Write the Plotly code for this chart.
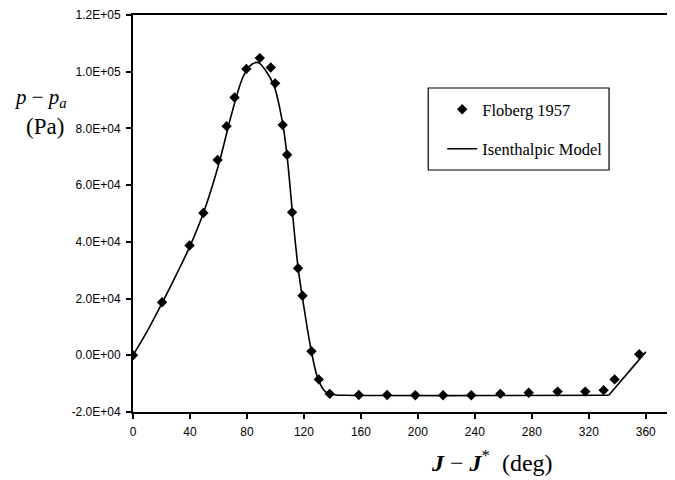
import plotly.graph_objects as go

# ---- data ----
floberg_deg = [0, 20.4, 39.7, 49.4, 59.4, 65.7, 71.3, 79.6, 89.0, 96.7, 99.8, 105.1, 108.2,
               111.7, 115.9, 119.0, 125.3, 130.4, 138.1, 158.5, 178.4, 198.2, 217.7,
               237.5, 257.9, 277.8, 298.1, 317.5, 330.4, 338.1, 355.4]
floberg_pa = [0, 18700, 38700, 50200, 68900, 80800, 90900, 101000, 104800, 101500, 95900,
              81200, 70700, 50400, 30700, 21000, 1400, -8500, -13600, -14000, -14000,
              -14100, -14100, -14100, -13600, -13200, -12800, -12800, -12300, -8500, 350]

model_deg = [0, 10, 20, 30, 40, 50, 60, 70, 78, 84, 88, 93, 99, 105, 108, 112, 116, 120,
             125, 130, 135, 140, 150, 170, 250, 334]
model_pa = [0, 8500, 18000, 28000, 38500, 51000, 67000, 86500, 99000, 102800, 103200,
            100500, 95000, 82000, 71000, 50000, 30500, 17000, 2000, -8500, -12800, -13800,
            -14100, -14200, -14200, -14100]
model_tail_deg = [334, 360]
model_tail_pa = [-14100, 1200]

x_ticks = [0, 40, 80, 120, 160, 200, 240, 280, 320, 360]
y_ticks = [-20000, 0, 20000, 40000, 60000, 80000, 100000, 120000]
y_tick_text = ["-2.0E+04", "0.0E+00", "2.0E+04", "4.0E+04", "6.0E+04", "8.0E+04",
               "1.0E+05", "1.2E+05"]

OFF = 8  # page body margin
W, H = 667, 472
L, R, T, B = 124.5, 5, 7, 68
pw, ph = W - L - R, H - T - B


def px(x):
    return (x - OFF - L) / pw


def py(y):
    return (H - B - (y - OFF)) / ph


fig = go.Figure()
fig.add_trace(go.Scatter(
    x=floberg_deg, y=floberg_pa, mode="markers", name="Floberg 1957",
    marker=dict(symbol="diamond", size=8, color="black"),
    legendgroup="a"))
fig.add_trace(go.Scatter(
    x=model_deg, y=model_pa, mode="lines", name="Isenthalpic Model",
    line=dict(color="black", width=1.6, shape="spline"), legendgroup="b"))
fig.add_trace(go.Scatter(
    x=model_tail_deg, y=model_tail_pa, mode="lines", showlegend=False,
    line=dict(color="black", width=1.6), legendgroup="b"))

tickfont = dict(family="Liberation Sans, Arial, sans-serif", size=12, color="black")
fig.update_xaxes(range=[0, 377], tickvals=x_ticks, ticks="outside", ticklen=5,
                 tickcolor="black", tickwidth=1.5, showgrid=False, zeroline=False,
                 showline=True, linecolor="black", linewidth=2, mirror=True,
                 tickfont=tickfont, ticklabelstandoff=3, ticklabeloverflow="allow",
                 automargin=False)
fig.update_yaxes(range=[-20000, 120000], tickvals=y_ticks, ticktext=y_tick_text,
                 ticks="outside", ticklen=5, tickcolor="black", tickwidth=1.5,
                 showgrid=False, zeroline=False, showline=True, linecolor="black",
                 linewidth=2, mirror=True, tickfont=tickfont, ticklabelstandoff=3,
                 ticklabeloverflow="allow", automargin=False)

# legend box
fig.add_shape(type="rect", xref="paper", yref="paper", x0=px(428), x1=px(609),
              y0=py(170), y1=py(88), line=dict(color="black", width=1.2))

serif = "Liberation Serif, Times New Roman, serif"
fig.update_layout(
    width=W, height=H, margin=dict(l=L, r=R, t=T, b=B, autoexpand=False),
    paper_bgcolor="white", plot_bgcolor="white",
    legend=dict(x=px(442), y=py(92), xanchor="left", yanchor="top",
                bgcolor="rgba(0,0,0,0)", borderwidth=0, tracegroupgap=15,
                traceorder="grouped",
                font=dict(family=serif, size=16.5, color="black")),
    annotations=[
        dict(text="<i>p</i> − <i>p</i><sub><i>a</i></sub>", xref="paper", yref="paper",
             x=px(40), y=py(98), showarrow=False, xanchor="center", yanchor="middle",
             font=dict(family=serif, size=21, color="black")),
        dict(text="(Pa)", xref="paper", yref="paper",
             x=px(44), y=py(126), showarrow=False, xanchor="center", yanchor="middle",
             font=dict(family=serif, size=23, color="black")),
        dict(text="<b><i>J</i></b> − <b><i>J</i></b><sup>*</sup>\u00a0\u00a0(deg)",
             xref="paper", yref="paper", x=px(492), y=py(461), showarrow=False,
             xanchor="center", yanchor="middle",
             font=dict(family=serif, size=24, color="black")),
    ],
)

fig.write_html("out.html")
